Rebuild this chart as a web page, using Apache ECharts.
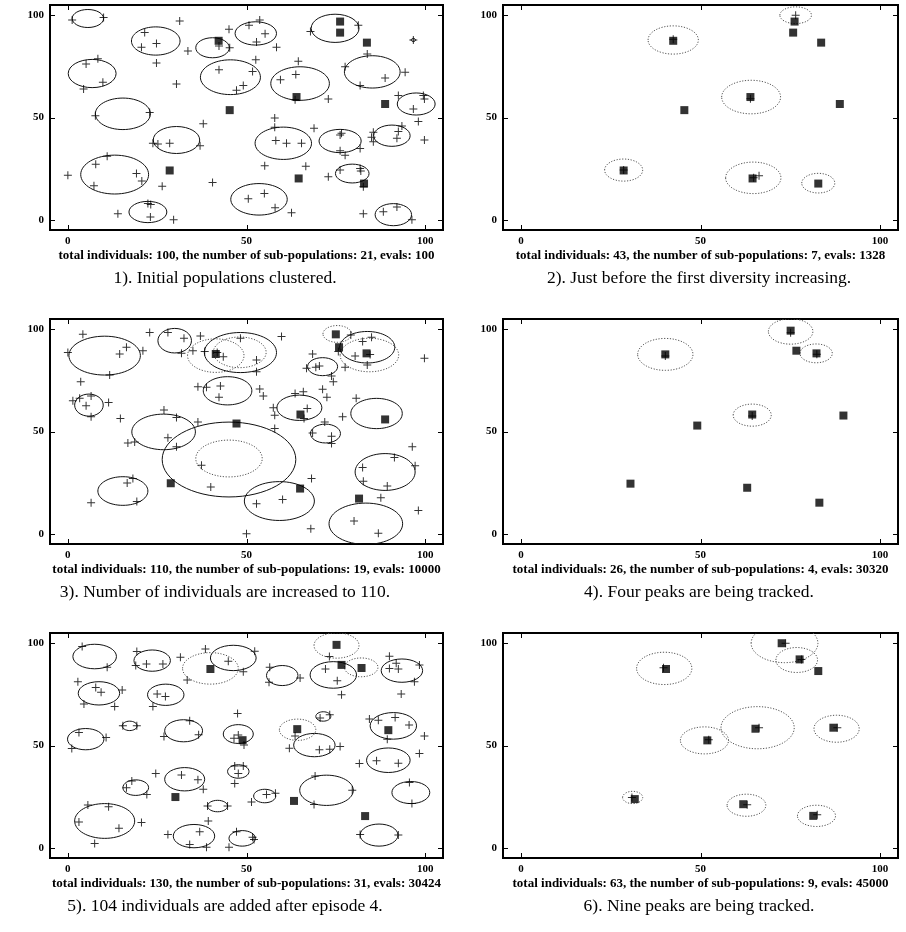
<!DOCTYPE html>
<html>
<head>
<meta charset="utf-8">
<script src="https://cdn.jsdelivr.net/npm/echarts@6/dist/echarts.min.js"></script>
<style>
html,body{margin:0;padding:0;background:#fff;}
#chart{width:906px;height:932px;}
</style>
</head>
<body>
<div id="chart"></div>
<script>
// ---------- DATA ----------
const tickValues = [0, 50, 100];

const titles = [
  'total individuals: 100, the number of sub-populations: 21, evals: 100',
  'total individuals: 43, the number of sub-populations: 7, evals: 1328',
  'total individuals: 110, the number of sub-populations: 19, evals: 10000',
  'total individuals: 26, the number of sub-populations: 4, evals: 30320',
  'total individuals: 130, the number of sub-populations: 31, evals: 30424',
  'total individuals: 63, the number of sub-populations: 9, evals: 45000'
];
const captions = [
  '1). Initial populations clustered.',
  '2). Just before the first diversity increasing.',
  '3). Number of individuals are increased to 110.',
  '4). Four peaks are being tracked.',
  '5). 104 individuals are added after episode 4.',
  '6). Nine peaks are being tracked.'
];

// Panel 1
const p1Points = [[1.2,97.7],[10,98.9],[31.3,97.2],[21.5,91.5],[24.8,86.2],[20.6,84.4],[24.8,76.7],[33.6,82.5],[30.4,66.4],[5.1,76.2],[8.4,78.7],[9.8,67.2],[4.4,63.9],[7.7,50.8],[22.9,52.5],[45.1,93.1],[42.3,84.9],[45.3,84.1],[50.7,95.1],[53.7,97.7],[55.2,91],[52.8,86.9],[58.4,84.4],[52.6,78.2],[42.3,73.4],[51.7,72.5],[49.1,65.6],[47.2,63.3],[64.5,77.5],[63.8,71],[59.5,68.5],[63.6,58.7],[72.9,59],[67.9,92],[81.3,95.1],[83.8,81.1],[77.6,74.8],[81.8,65.6],[88.8,69.3],[94.4,72.1],[96.7,87.9],[92.5,60.8],[99.5,60.7],[99.8,59],[96.7,54.1],[98.1,48],[99.8,39],[93.5,45.9],[92.5,43.1],[92.1,39.8],[85.5,42.8],[85,40.3],[85.5,38.2],[76.6,42.3],[76.2,41.5],[76.2,33.8],[77.6,31.6],[81.8,34.9],[76.2,24.3],[81.8,25.1],[82,23.9],[82.7,16.1],[72.9,21],[68.9,44.8],[57.9,49.7],[57.9,45.2],[58.2,38.7],[61.2,37.4],[65.4,37.4],[55.1,26.4],[66.6,26.2],[37.9,46.9],[37,36.2],[23.8,37.4],[25.2,37],[28.5,37.4],[11,31.1],[7.8,27.2],[0,21.8],[19.2,22.6],[20.7,18.9],[7.3,16.6],[26.4,16.4],[40.5,18.2],[50.5,10.3],[55,12.8],[58,5.9],[62.6,3.4],[14,3],[22.4,7.9],[23.2,7.5],[23.1,1.3],[29.6,0],[82.7,3],[88.3,3.9],[92.1,6.2],[96.3,0]];
const p1Peaks = [[76.2,96.9],[76.2,91.5],[42.2,87.5],[83.7,86.6],[88.8,56.6],[45.3,53.6],[64,60],[28.5,24.1],[64.6,20.2],[82.9,17.7]];
const p1Solid = [[5.6,98.4,4.4,4.4],[24.6,87.4,6.8,6.9],[40.5,84.1,4.7,4.9],[52.6,91.1,5.8,5.7],[74.8,93.6,6.7,6.9],[6.8,71.5,6.7,6.9],[45.5,69.7,8.4,8.5],[65,66.6,8.2,8.2],[85.2,72.3,7.8,7.9],[97.5,56.6,5.3,5.4],[15.4,51.8,7.7,7.7],[30.4,39,6.5,6.6],[60.3,37.4,7.9,7.9],[76.2,38.5,5.9,5.7],[90.7,41.1,5.1,5.2],[13.1,22.1,9.5,9.5],[79.6,22.6,4.7,4.6],[53.5,10,7.9,7.7],[22.4,3.8,5.3,5.2],[91.1,2.5,5.1,5.4],[96.7,87.9,0.6,0.8]];
const p1Dotted = [];

// Panel 2
const p2Points = [[76.5,100],[66.3,21.5],[42.4,88.3],[28.6,24.3],[63.9,59.2],[64.8,20.6]];
const p2Peaks = [[76.2,96.9],[75.8,91.5],[83.6,86.6],[42.4,87.5],[63.9,60],[45.5,53.6],[88.8,56.6],[28.6,24.1],[64.5,20.2],[82.8,17.7]];
const p2Solid = [];
const p2Dotted = [[76.5,100,4.4,4.1],[42.4,87.9,7,6.9],[64.1,60,8.2,8.2],[28.6,24.3,5.3,5.4],[64.7,20.5,7.7,7.7],[82.8,17.9,4.6,4.8]];

// Panel 3
const p3Points = [[4.2,97.5],[0,88.6],[14.5,87.9],[16.4,91.2],[11.7,77.6],[21,89.5],[22.9,98.4],[28,98.4],[32.5,95.6],[37.1,96.7],[31.8,88.2],[35,89.5],[38.3,89.1],[43.5,86.6],[48.3,95.6],[52.8,85],[52.8,79.2],[59.8,96.4],[3.6,74.3],[1.4,65],[3.3,66.2],[6.5,67.3],[5.1,62.6],[11.4,64.2],[6.5,57.2],[14.7,56.4],[36.4,71.9],[38.8,71.6],[42.7,72.2],[42.3,66.7],[53.7,70.8],[54.7,67.3],[26.9,60.5],[30.4,56.9],[36.4,54.7],[28,46.9],[16.8,44.4],[18.7,44.9],[30.4,42.5],[37.4,33.5],[40,22.9],[16.6,24.8],[18.2,27],[19.3,15.8],[6.5,15.2],[50,0],[52.8,14.7],[60.1,16.7],[68.2,27],[68,2.5],[57.5,61.6],[57.9,58],[57.9,51.5],[63.6,68.6],[65.9,69.4],[67,61.3],[66.1,56.4],[68.5,49.3],[71.9,54.7],[73.8,47.7],[73.8,44.1],[68.5,87.9],[66.8,80.9],[69.4,81.4],[70.4,82],[71.3,70.6],[72.5,66.7],[73.8,77.1],[74.3,74.3],[77.6,81.4],[76.9,57.2],[79.2,97.2],[80.4,86.9],[82.5,94],[85,96.1],[83.8,82.5],[84.6,87.7],[99.8,85.8],[80.7,66.2],[96.4,42.5],[91.4,37.3],[97.2,33.2],[82.5,32.4],[82.7,25.7],[89.4,23.4],[87.6,17.6],[98.1,11.4],[80.1,6.2],[86.9,0.3],[75.7,89.1],[41.8,88.6]];
const p3Peaks = [[75,97.5],[75.9,91.2],[83.6,88.2],[41.4,87.9],[65.1,58.3],[47.2,53.9],[88.8,55.9],[28.8,24.7],[65,22.1],[81.5,17.2]];
const p3Solid = [[10.3,87.1,10,9.5],[29.9,94.4,4.7,6],[48.3,88.6,10.1,9.8],[83.8,91.2,7.7,7.7],[71.3,81.7,4.2,4.4],[5.9,62.9,4,5.4],[44.7,69.9,6.8,6.9],[64.8,61.6,6.3,6.2],[86.4,58.8,7.2,7.4],[26.8,49.8,8.9,8.7],[72.1,49,4.2,4.6],[45.1,36.3,18.7,18.3],[15.4,20.9,7,7],[59.2,16,9.8,9.5],[88.8,30.2,8.4,9],[83.4,4.9,10.3,10.1]];
const p3Dotted = [[41.4,87.1,7.9,8.2],[48.1,88.7,7.4,7.5],[75.4,97.7,4,4.1],[84.4,87.4,8.2,8.2],[45.1,36.8,9.3,9]];

// Panel 4
const p4Points = [[40.2,86.9],[75.1,98.3],[64.4,57.6],[82.4,87.8]];
const p4Peaks = [[75.1,99.3],[76.7,89.5],[82.3,88.2],[40.2,87.7],[64.4,58.3],[49.1,52.9],[89.8,57.8],[30.5,24.5],[63,22.5],[83.1,15.2]];
const p4Solid = [];
const p4Dotted = [[75.1,98.9,6.2,6.2],[40.2,87.7,7.7,7.8],[82.2,88.2,4.5,4.6],[64.4,58,5.3,5.4]];

// Panel 5
const p5Points = [[4,98.4],[11,88.2],[19.3,95.9],[19,89.1],[22,89.9],[26.6,89.9],[31.5,93.1],[38.5,97.2],[44.9,91.2],[49.1,86.1],[52.3,96.1],[33.4,82],[56.5,88.2],[56.3,80.9],[65,83],[72.1,87.4],[73.2,93.5],[75.4,81.7],[76.6,74.8],[90,93.6],[90,87.7],[91.9,90.2],[92.5,87.4],[98.4,89.4],[97,81.2],[93.3,75.2],[2.8,81.2],[7.8,78.4],[9.3,76],[4.5,70.3],[13.1,69.1],[15.2,77.1],[23.8,69.1],[25,75.2],[27.3,73.9],[47.5,65.7],[70.6,63.4],[73.3,65],[15.4,59.6],[19.3,59.6],[34.1,62.1],[26.9,54.4],[36.6,55.2],[3.1,56.4],[1.1,48.5],[10.7,53.9],[46.5,53.6],[47.7,55.1],[49.3,50.2],[63.6,54.7],[62,48.7],[70.4,47.9],[73.3,48.2],[76.2,49.5],[84.4,62.9],[86.9,62.4],[91.6,63.7],[95.5,60],[89.4,53.1],[99.8,54.7],[98.4,46.1],[81.6,41.2],[86.4,42.5],[92.5,41.3],[46.7,40],[49.1,40],[47.7,36.3],[46.7,31.4],[24.6,36.3],[31.8,35.6],[36.4,33.2],[37.9,28.6],[16.4,29.4],[17.9,32.7],[22.1,26.1],[55.6,26.1],[58.1,26.6],[51.4,22.4],[69.2,35.1],[68.9,21.2],[79.6,28.1],[95.6,31.9],[96.3,21.6],[39.1,20.4],[44.7,20.4],[39.3,13.1],[5.6,20.9],[11.4,20.1],[3.1,12.6],[20.6,12.3],[14.3,9.5],[7.5,2.1],[28,6.5],[36.9,7.8],[34.1,1.6],[38.8,0.3],[45.1,0.3],[47.2,7.8],[51.7,5.2],[52.1,4.1],[81.8,6.5],[92.5,6.2]];
const p5Peaks = [[75.2,99.2],[76.6,89.4],[82.2,87.9],[39.9,87.4],[64.2,58],[48.9,52.6],[89.7,57.5],[30.1,24.8],[63.3,22.9],[83.2,15.5]];
const p5Solid = [[7.5,93.5,6.1,6],[23.6,91.5,5.1,5.2],[46.3,92.8,6.4,6.2],[60,84.2,4.4,4.9],[74.3,84.5,6.5,6.5],[93.5,86.6,5.8,5.7],[8.7,75.5,5.8,5.7],[27.4,74.8,5.1,5.2],[71.5,64.2,2.1,2.3],[17.3,59.6,2.1,2.3],[32.4,57.2,5.3,5.4],[47.7,55.6,4.2,4.6],[91.1,59.6,6.5,6.5],[5,53.1,5.1,5.2],[69,50.2,5.8,5.7],[89.7,42.8,6.1,6],[47.7,37.3,3,3.3],[32.7,33.5,5.6,5.7],[19,29.4,3.6,3.8],[55.1,25.3,3.1,3.3],[72.4,28.1,7.5,7.4],[96,27,5.3,5.4],[41.9,20.4,2.8,2.8],[10.3,13.1,8.4,8.5],[35.3,5.7,5.8,5.7],[48.8,4.6,3.7,3.8],[87.1,6.2,5.3,5.4]];
const p5Dotted = [[39.9,87.7,7.8,7.7],[75.2,98.9,6.3,6.2],[82.1,88.2,4.7,4.6],[64.3,57.7,5.1,5.2]];

// Panel 6
const p6Points = [[73.7,100],[78.1,92.1],[39.7,88],[66.3,58.7],[52.3,52.8],[88.1,58.7],[30.9,24.6],[63,21],[82.5,16.1]];
const p6Peaks = [[72.6,100],[77.6,92.1],[82.8,86.4],[40.4,87.4],[65.3,58.2],[51.9,52.5],[87,58.7],[31.7,23.8],[61.9,21.3],[81.4,15.6]];
const p6Solid = [];
const p6Dotted = [[73.4,100,9.3,9.5],[76.8,91.8,5.8,6.1],[39.9,87.7,7.7,7.9],[65.9,58.7,10.2,10.3],[51.1,52.5,6.7,6.6],[87.9,58.2,6.3,6.6],[31.1,24.6,2.8,3],[62.8,20.8,5.4,5.4],[82.3,15.6,5.3,5.2]];

const panels = [
  {points:p1Points, peaks:p1Peaks, solid:p1Solid, dotted:p1Dotted},
  {points:p2Points, peaks:p2Peaks, solid:p2Solid, dotted:p2Dotted},
  {points:p3Points, peaks:p3Peaks, solid:p3Solid, dotted:p3Dotted},
  {points:p4Points, peaks:p4Peaks, solid:p4Solid, dotted:p4Dotted},
  {points:p5Points, peaks:p5Peaks, solid:p5Solid, dotted:p5Dotted},
  {points:p6Points, peaks:p6Peaks, solid:p6Solid, dotted:p6Dotted}
];

// ---------- LAYOUT ----------
const gridRects = [
  {left:50, top:5, width:393, height:225},
  {left:503, top:5, width:395, height:225},
  {left:50, top:319, width:393, height:225},
  {left:503, top:319, width:395, height:225},
  {left:50, top:633, width:393, height:225},
  {left:503, top:633, width:395, height:225}
];

const serif = 'Liberation Serif, Times New Roman, serif';
const plusPath = 'path://M3.5,0h1v3.5h3.5v1h-3.5v3.5h-1v-3.5h-3.5v-1h3.5z';

const grids = [], xAxes = [], yAxes = [], series = [], graphics = [];

function axisCommon() {
  return {
    type:'value', min:-5, max:105,
    axisLine:{show:false},
    splitLine:{show:false},
    axisTick:{show:false},
    axisLabel:{show:true, customValues:tickValues, fontFamily:serif, fontWeight:'bold', fontSize:11, color:'#000', margin:6}
  };
}

function ellipseRender(color, dash) {
  return function(params, api) {
    const c = api.coord([api.value(0), api.value(1)]);
    const s = api.size([api.value(2), api.value(3)]);
    return {
      type:'ellipse',
      shape:{cx:c[0], cy:c[1], rx:s[0], ry:s[1]},
      style:{fill:null, stroke:color, lineWidth:1, lineDash:dash}
    };
  };
}

// inward ticks on all four sides, placed through the axis scales
function tickRender(params, api) {
  const cs = params.coordSys;
  const v = api.value(0);
  const px = Math.round(api.coord([v, 0])[0]) + 0.5;
  const py = Math.round(api.coord([0, v])[1]) + 0.5;
  const L = 5;
  const st = {stroke:'#000', lineWidth:1};
  return {
    type:'group',
    children:[
      {type:'line', shape:{x1:px, y1:cs.y + cs.height, x2:px, y2:cs.y + cs.height - L}, style:st},
      {type:'line', shape:{x1:px, y1:cs.y, x2:px, y2:cs.y + L}, style:st},
      {type:'line', shape:{x1:cs.x, y1:py, x2:cs.x + L, y2:py}, style:st},
      {type:'line', shape:{x1:cs.x + cs.width, y1:py, x2:cs.x + cs.width - L, y2:py}, style:st}
    ]
  };
}

panels.forEach((p, i) => {
  const r = gridRects[i];
  grids.push(Object.assign({show:true, borderColor:'#000', borderWidth:2, backgroundColor:'#fff', containLabel:false}, r));
  xAxes.push(Object.assign(axisCommon(), {gridIndex:i, position:'bottom'}));
  yAxes.push(Object.assign(axisCommon(), {gridIndex:i, position:'left'}));

  series.push({
    type:'custom', xAxisIndex:i, yAxisIndex:i, clip:false, silent:true,
    renderItem: tickRender, data: tickValues.map(v => [v, v]), z:5
  });
  if (p.solid.length) series.push({
    type:'custom', xAxisIndex:i, yAxisIndex:i, clip:true, silent:true,
    renderItem: ellipseRender('#111', null), data:p.solid, z:2
  });
  if (p.dotted.length) series.push({
    type:'custom', xAxisIndex:i, yAxisIndex:i, clip:true, silent:true,
    renderItem: ellipseRender('#555', [1.2, 1.6]), data:p.dotted, z:2
  });
  series.push({
    type:'scatter', xAxisIndex:i, yAxisIndex:i, symbol:plusPath, symbolSize:8,
    itemStyle:{color:'#000'}, data:p.points, z:3, silent:true
  });
  series.push({
    type:'scatter', xAxisIndex:i, yAxisIndex:i, symbol:'rect', symbolSize:8,
    itemStyle:{color:'#000'}, data:p.peaks, z:4, silent:true
  });

  const cx = r.left + r.width/2;
  const bottom = r.top + r.height;
  graphics.push({
    type:'text', x:cx, y:bottom + 26,
    style:{text:titles[i], fontFamily:serif, fontWeight:'bold', fontSize:13, fill:'#000', textAlign:'center', textVerticalAlign:'middle'}
  });
  graphics.push({
    type:'text', x:(i % 2 === 0) ? 225 : 699, y:bottom + 48,
    style:{text:captions[i], fontFamily:serif, fontSize:17.5, fill:'#000', textAlign:'center', textVerticalAlign:'middle'}
  });
});

const chart = echarts.init(document.getElementById('chart'), null, {renderer:'canvas'});
chart.setOption({
  animation:false,
  backgroundColor:'#fff',
  grid:grids, xAxis:xAxes, yAxis:yAxes, series:series, graphic:graphics
});
</script>
</body>
</html>
